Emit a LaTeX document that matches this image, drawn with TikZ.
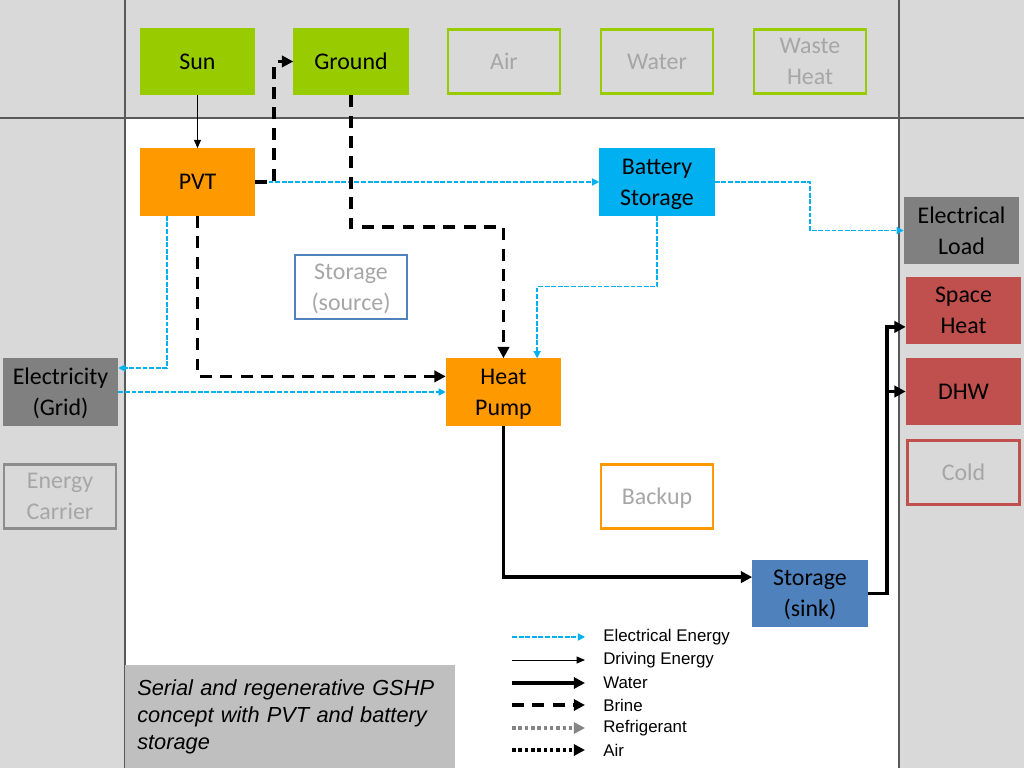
\documentclass[tikz,border=0pt]{standalone}
\usepackage{fontspec}
\setmainfont{Carlito}
\newfontfamily\legfont{Liberation Sans}
\usetikzlibrary{arrows.meta}

\definecolor{bggray}{HTML}{D9D9D9}
\definecolor{framegray}{HTML}{595959}
\definecolor{srcgreen}{HTML}{99CC00}
\definecolor{pvtorange}{HTML}{FF9900}
\definecolor{battblue}{HTML}{00B0F0}
\definecolor{sinkblue}{HTML}{4F81BD}
\definecolor{heatred}{HTML}{C0504D}
\definecolor{loadgray}{HTML}{808080}
\definecolor{offtext}{HTML}{A6A6A6}
\definecolor{capgray}{HTML}{BFBFBF}

\begin{document}
\begin{tikzpicture}
  [x=0.025cm,y=-0.025cm,
   box/.style={rectangle,minimum width=2.875cm,minimum height=1.675cm,inner sep=0pt,
     align=center,text depth=0pt,font=\fontsize{17}{22}\selectfont},
   filled/.style={box,fill=#1},
   ghostgray/.style={box,fill=bggray,draw=#1,text=offtext,line width=1.8pt,
     minimum width=2.8cm,minimum height=1.6cm},
   elec/.style={draw=battblue,line width=1pt,dash pattern=on 3.5pt off 1.2pt,
     -{Triangle[length=5pt,width=5pt]}},
   drive/.style={draw=black,line width=0.7pt,-{Triangle[length=6pt,width=5pt]}},
   water/.style={draw=black,line width=2.6pt,-{Triangle[length=8pt,width=8pt]}},
   brine/.style={draw=black,line width=2.6pt,dash pattern=on 8.5pt off 6pt,
     -{Triangle[length=8pt,width=8pt]}},
   refrig/.style={draw=offtext!80!black,line width=2.6pt,dash pattern=on 2.5pt off 2pt,
     -{Triangle[length=8pt,width=8pt]}},
   airline/.style={draw=black,line width=2.6pt,dash pattern=on 2.5pt off 2pt,
     -{Triangle[length=8pt,width=8pt]}},
   legtext/.style={anchor=west,inner sep=0pt,font=\legfont\fontsize{12}{14}\selectfont}]

  % frame
  \useasboundingbox (0,0) rectangle (1024,768);
  \fill[bggray] (0,0) rectangle (1024,768);
  \fill[white] (125,118) rectangle (899,768);
  \draw[framegray,line width=1pt] (0,118) -- (1024,118);
  \draw[framegray,line width=1pt] (125,0) -- (125,768);
  \draw[framegray,line width=1pt] (899,0) -- (899,768);

  % sources
  \node[filled=srcgreen] (sun) at (197.5,61.5) {Sun};
  \node[filled=srcgreen] (ground) at (351,61.5) {Ground};
  \node[ghostgray=srcgreen] (air) at (504,61.5) {Air};
  \node[ghostgray=srcgreen] (water) at (657,61.5) {Water};
  \node[ghostgray=srcgreen] (waste) at (810,61.5) {Waste\\Heat};

  % components
  \node[filled=pvtorange] (pvt) at (197.5,182) {PVT};
  \node[filled=battblue] (batt) at (657,182) {Battery\\Storage};
  \node[box,fill=white,draw=sinkblue,text=offtext,line width=1.8pt,
    minimum width=2.8cm,minimum height=1.6cm] (source) at (351,287) {Storage\\(source)};
  \node[filled=pvtorange] (hp) at (503.5,392) {Heat\\Pump};
  \node[box,fill=white,draw=pvtorange,text=offtext,line width=1.8pt,
    minimum width=2.8cm,minimum height=1.6cm] (backup) at (657,496.5) {Backup};
  \node[filled=sinkblue] (sink) at (810,593.5) {Storage\\(sink)};

  % grid and loads
  \node[filled=loadgray] (grid) at (60.5,392) {Electricity\\(Grid)};
  \node[ghostgray=loadgray!90] (carrier) at (60,496.5) {Energy\\Carrier};
  \node[filled=loadgray] (load) at (961.5,230.5) {Electrical\\Load};
  \node[filled=heatred] (space) at (963.5,310.5) {Space\\Heat};
  \node[filled=heatred] (dhw) at (963.5,391.5) {DHW};
  \node[ghostgray=heatred] (cold) at (963.5,472.5) {Cold};

  % connectors
  \draw[drive] (sun) -- (pvt);
  \draw[elec] (pvt.east) -- (batt.west);
  \draw[brine] (pvt.east) -- ++(19,0) |- (ground.west);
  \draw[brine] (ground.south) -- ++(0,132) -| (hp.north);
  \draw[brine] (pvt.south) |- ([yshift=0.39cm]hp.west);
  \draw[elec] ([xshift=-0.76cm]pvt.south) |- ([yshift=0.6cm]grid.east);
  \draw[elec] (grid.east) -- (hp.west);
  \draw[elec] (batt.east) -- ++(95,0) |- (load.west);
  \draw[elec] (batt.south) -- ++(0,71) -| ([xshift=0.84cm]hp.north);
  \draw[water] (hp.south) |- ([yshift=0.41cm]sink.west);
  \draw[water] (sink.east) -- ++(19,0) |- ([yshift=-0.41cm]space.west);
  \draw[water] (sink.east) -- ++(19,0) |- (dhw.west);

  % legend
  \foreach \i/\y/\sty/\txt in {1/637/elec/Electrical Energy,2/660/drive/Driving Energy,
      3/683/water/Water,4/705/brine/Brine,5/728/refrig/Refrigerant,6/750/airline/Air}
  {
    \coordinate (leg\i a) at (512,\y);
    \coordinate (leg\i b) at (585,\y);
    \draw[\sty] (leg\i a) -- (leg\i b);
    \node[legtext] (leg\i) at (603,\y) {\txt};
  }

  % caption
  \node[anchor=north west,fill=capgray,minimum width=8.25cm,minimum height=2.575cm,
    inner xsep=0.3cm,inner ysep=0pt,text width=7.65cm,align=left,
    font=\legfont\itshape\fontsize{15.5}{19.5}\selectfont] (caption) at (125,665)
    {\mbox{Serial and regenerative GSHP}\\concept with PVT and battery\\storage};
\end{tikzpicture}
\end{document}
